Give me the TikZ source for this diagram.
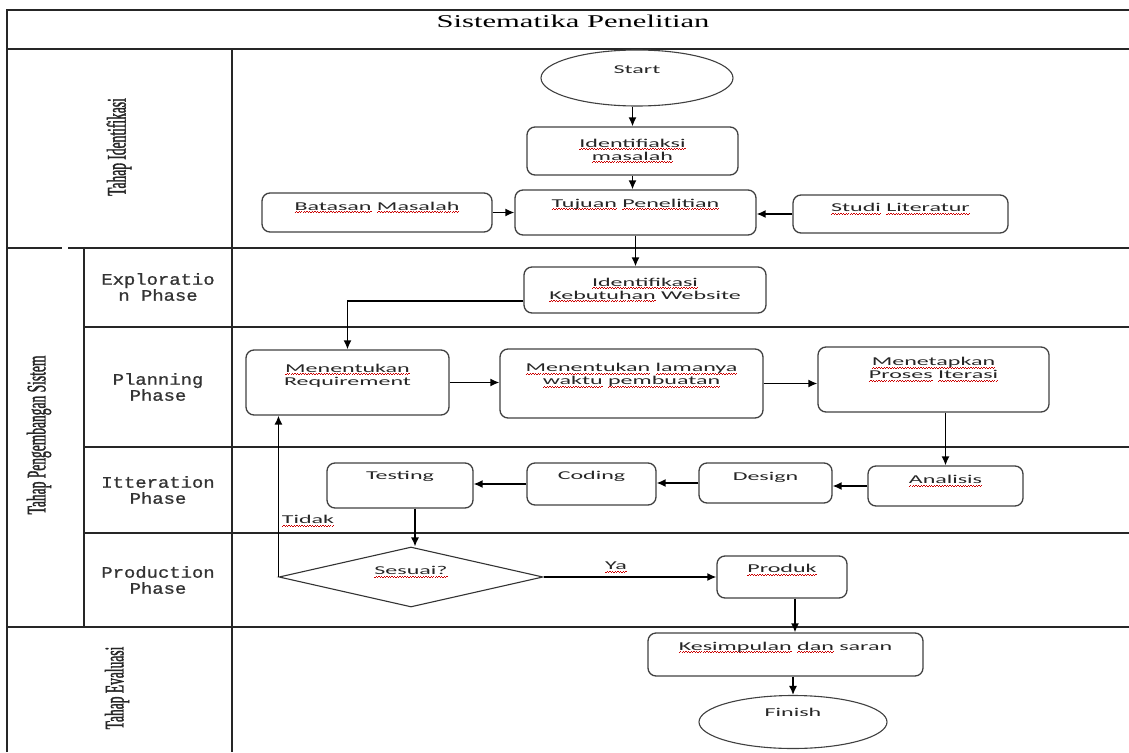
\documentclass[tikz,border=0pt]{standalone}
\usepackage{fontspec}
\setmainfont{Liberation Serif}
\newfontfamily\boxfont[FakeStretch=2]{Carlito}
\newfontfamily\titlefont[FakeStretch=1.7]{Liberation Serif}
\newfontfamily\rotfont[FakeStretch=0.5,FakeBold=1.2]{Liberation Serif}
\newfontfamily\phasefont[FakeStretch=1.18,FakeBold=1]{Liberation Mono}
\usetikzlibrary{arrows.meta,shapes.geometric,calc}
\newsavebox\rwbox
\newcommand\rw[1]{\sbox\rwbox{#1}\leavevmode\rlap{\hbox to \wd\rwbox{\color{red!80!black}\xleaders\hbox{\rule[-2.8pt]{1.3pt}{0.7pt}\rule[-1.9pt]{1.3pt}{0.7pt}}\hfill}}\usebox\rwbox}
\tikzset{
  frame/.style={line width=1.5pt, draw=black!85},
  box/.style={draw=black!75, line width=1.3pt, rounded corners=8pt, minimum width=#1, inner sep=0pt},
  oval/.style={draw=black!75, line width=1.1pt, ellipse, inner sep=0pt},
  bt/.style={font=\boxfont\fontsize{12}{13}\selectfont, align=center, inner sep=0pt, text=black!85},
  phase/.style={font=\phasefont\fontsize{16}{16}\selectfont, align=center, inner sep=0pt, text=black!80},
  lane/.style={font=\rotfont\fontsize{27}{27}\selectfont, rotate=90, inner sep=0pt, text=black!85},
  conn/.style={line width=1.4pt, draw=black, -{Latex[length=9pt,width=8pt]}}
}
\begin{document}
\begin{tikzpicture}[x=1pt,y=-1pt]
\useasboundingbox (0,0) rectangle (1129,752);
% frame
\draw[frame] (7,752) -- (7,10) -- (1129,10);
\draw[frame] (7,49) -- (1129,49);
\draw[frame] (232,49) -- (232,752);
\draw[frame] (7,248) -- (62,248);
\draw[frame] (68,248) -- (1129,248);
\draw[frame] (84,248) -- (84,627);
\draw[frame] (84,327) -- (1129,327);
\draw[frame] (84,447) -- (1129,447);
\draw[frame] (84,533) -- (1129,533);
\draw[frame] (7,627) -- (1129,627);
% title and lane labels
\node[font=\titlefont\fontsize{18}{18}\selectfont, inner sep=0pt] (title) at (573,21) {Sistematika Penelitian};
\node[lane] (l1) at (119,147) {Tahap Identifikasi};
\node[lane] (l2) at (39,435) {Tahap Pengembangan Sistem};
\node[lane] (l3) at (117,688) {Tahap Evaluasi};
\node[phase] (p1) at (158,287) {Exploratio\\n Phase};
\node[phase] (p2) at (158,387) {Planning\\Phase};
\node[phase] (p3) at (158,490) {Itteration\\Phase};
\node[phase] (p4) at (158,580) {Production\\Phase};
% shapes
\node[oval, minimum width=192pt, minimum height=56pt] (start) at (637,78) {};
\node[box=211pt, minimum height=48pt] (idm) at (632.5,151) {};
\node[box=241pt, minimum height=45pt] (tuj) at (635.5,212.5) {};
\node[box=230pt, minimum height=39pt] (bat) at (377,212.5) {};
\node[box=215pt, minimum height=38pt] (stu) at (900.5,214) {};
\node[box=242pt, minimum height=46pt] (ikw) at (645,290) {};
\node[box=203pt, minimum height=65pt] (req) at (347.5,382.5) {};
\node[box=263pt, minimum height=69pt] (lama) at (631.5,383.5) {};
\node[box=231pt, minimum height=65pt] (met) at (933.5,379.5) {};
\node[box=155pt, minimum height=40pt] (ana) at (945.5,486) {};
\node[box=133pt, minimum height=40pt] (des) at (765.5,483) {};
\node[box=129pt, minimum height=42pt] (cod) at (591.5,484) {};
\node[box=146pt, minimum height=45pt] (tes) at (400,485.5) {};
\node[diamond, draw=black!80, line width=1.1pt, minimum width=264pt, minimum height=60pt, inner sep=0pt] (dia) at (411,577) {};
\node[box=130pt, minimum height=42pt] (pro) at (782,577) {};
\node[box=275pt, minimum height=43pt] (kes) at (785.5,654.5) {};
\node[oval, minimum width=188pt, minimum height=53pt] (fin) at (793,722) {};
% texts
\node[bt, yshift=8pt] (tstart) at (start) {Start};
\node[bt] (tidm) at (idm) {\rw{Identifiaksi}\\\rw{masalah}};
\node[bt, yshift=8pt] (ttuj) at (tuj) {\rw{Tujuan} \rw{Penelitian}};
\node[bt, yshift=5pt] (tbat) at (bat) {\rw{Batasan} \rw{Masalah}};
\node[bt, yshift=5pt] (tstu) at (stu) {\rw{Studi} \rw{Literatur}};
\node[bt] (tikw) at (ikw) {\rw{Identifikasi}\\\rw{Kebutuhan} Website};
\node[bt, yshift=7pt] (treq) at (req) {\rw{Menentukan}\\Requirement};
\node[bt, yshift=8pt] (tlama) at (lama) {\rw{Menentukan} \rw{lamanya}\\\rw{waktu} \rw{pembuatan}};
\node[bt, yshift=10pt] (tmet) at (met) {\rw{Menetapkan}\\\rw{Proses} \rw{Iterasi}};
\node[bt, yshift=5pt] (tana) at (ana) {\rw{Analisis}};
\node[bt, yshift=6pt] (tdes) at (des) {Design};
\node[bt, yshift=8pt] (tcod) at (cod) {Coding};
\node[bt, yshift=9pt] (ttes) at (tes) {Testing};
\node[bt, yshift=5pt] (tdia) at (dia) {\rw{Sesuai?}};
\node[bt, yshift=7pt] (tpro) at (pro) {\rw{Produk}};
\node[bt, yshift=7pt] (tkes) at (kes) {\rw{Kesimpulan} \rw{dan} saran};
\node[bt, yshift=10pt] (tfin) at (fin) {Finish};
% connectors
\draw[conn] (idm.north |- start.south) -- (idm.north);
\draw[conn] (idm.south) -- (idm.south |- tuj.north);
\draw[conn] (bat.east) -- (bat.east -| tuj.west);
\draw[conn] (stu.west) -- (stu.west -| tuj.east);
\draw[conn] (tuj.south) -- (tuj.south |- ikw.north);
\draw[conn] ([yshift=-11pt]ikw.west) -| (req.north);
\draw[conn] (req.east) -- (req.east -| lama.west);
\draw[conn] (lama.east) -- (lama.east -| met.west);
\draw[conn] (ana.north |- met.south) -- (ana.north);
\draw[conn] (ana.west) -- (ana.west -| des.east);
\draw[conn] (des.west) -- (des.west -| cod.east);
\draw[conn] (cod.west) -- (cod.west -| tes.east);
\draw[conn] ([xshift=15pt]tes.south) -- ([xshift=15pt]tes.south |- dia.north);
\draw[conn] (dia.west) -- (dia.west |- req.south);
\draw[conn] (dia.east) -- (pro.west);
\draw[conn] ([xshift=13pt]pro.south) -- ([xshift=13pt]pro.south |- kes.north);
\draw[conn] (fin.north |- kes.south) -- (fin.north);
% connector labels
\node[bt] (ltidak) at (308,521) {\rw{Tidak}};
\node[bt] (lya) at (616,567) {\rw{Ya}};
\end{tikzpicture}
\end{document}
